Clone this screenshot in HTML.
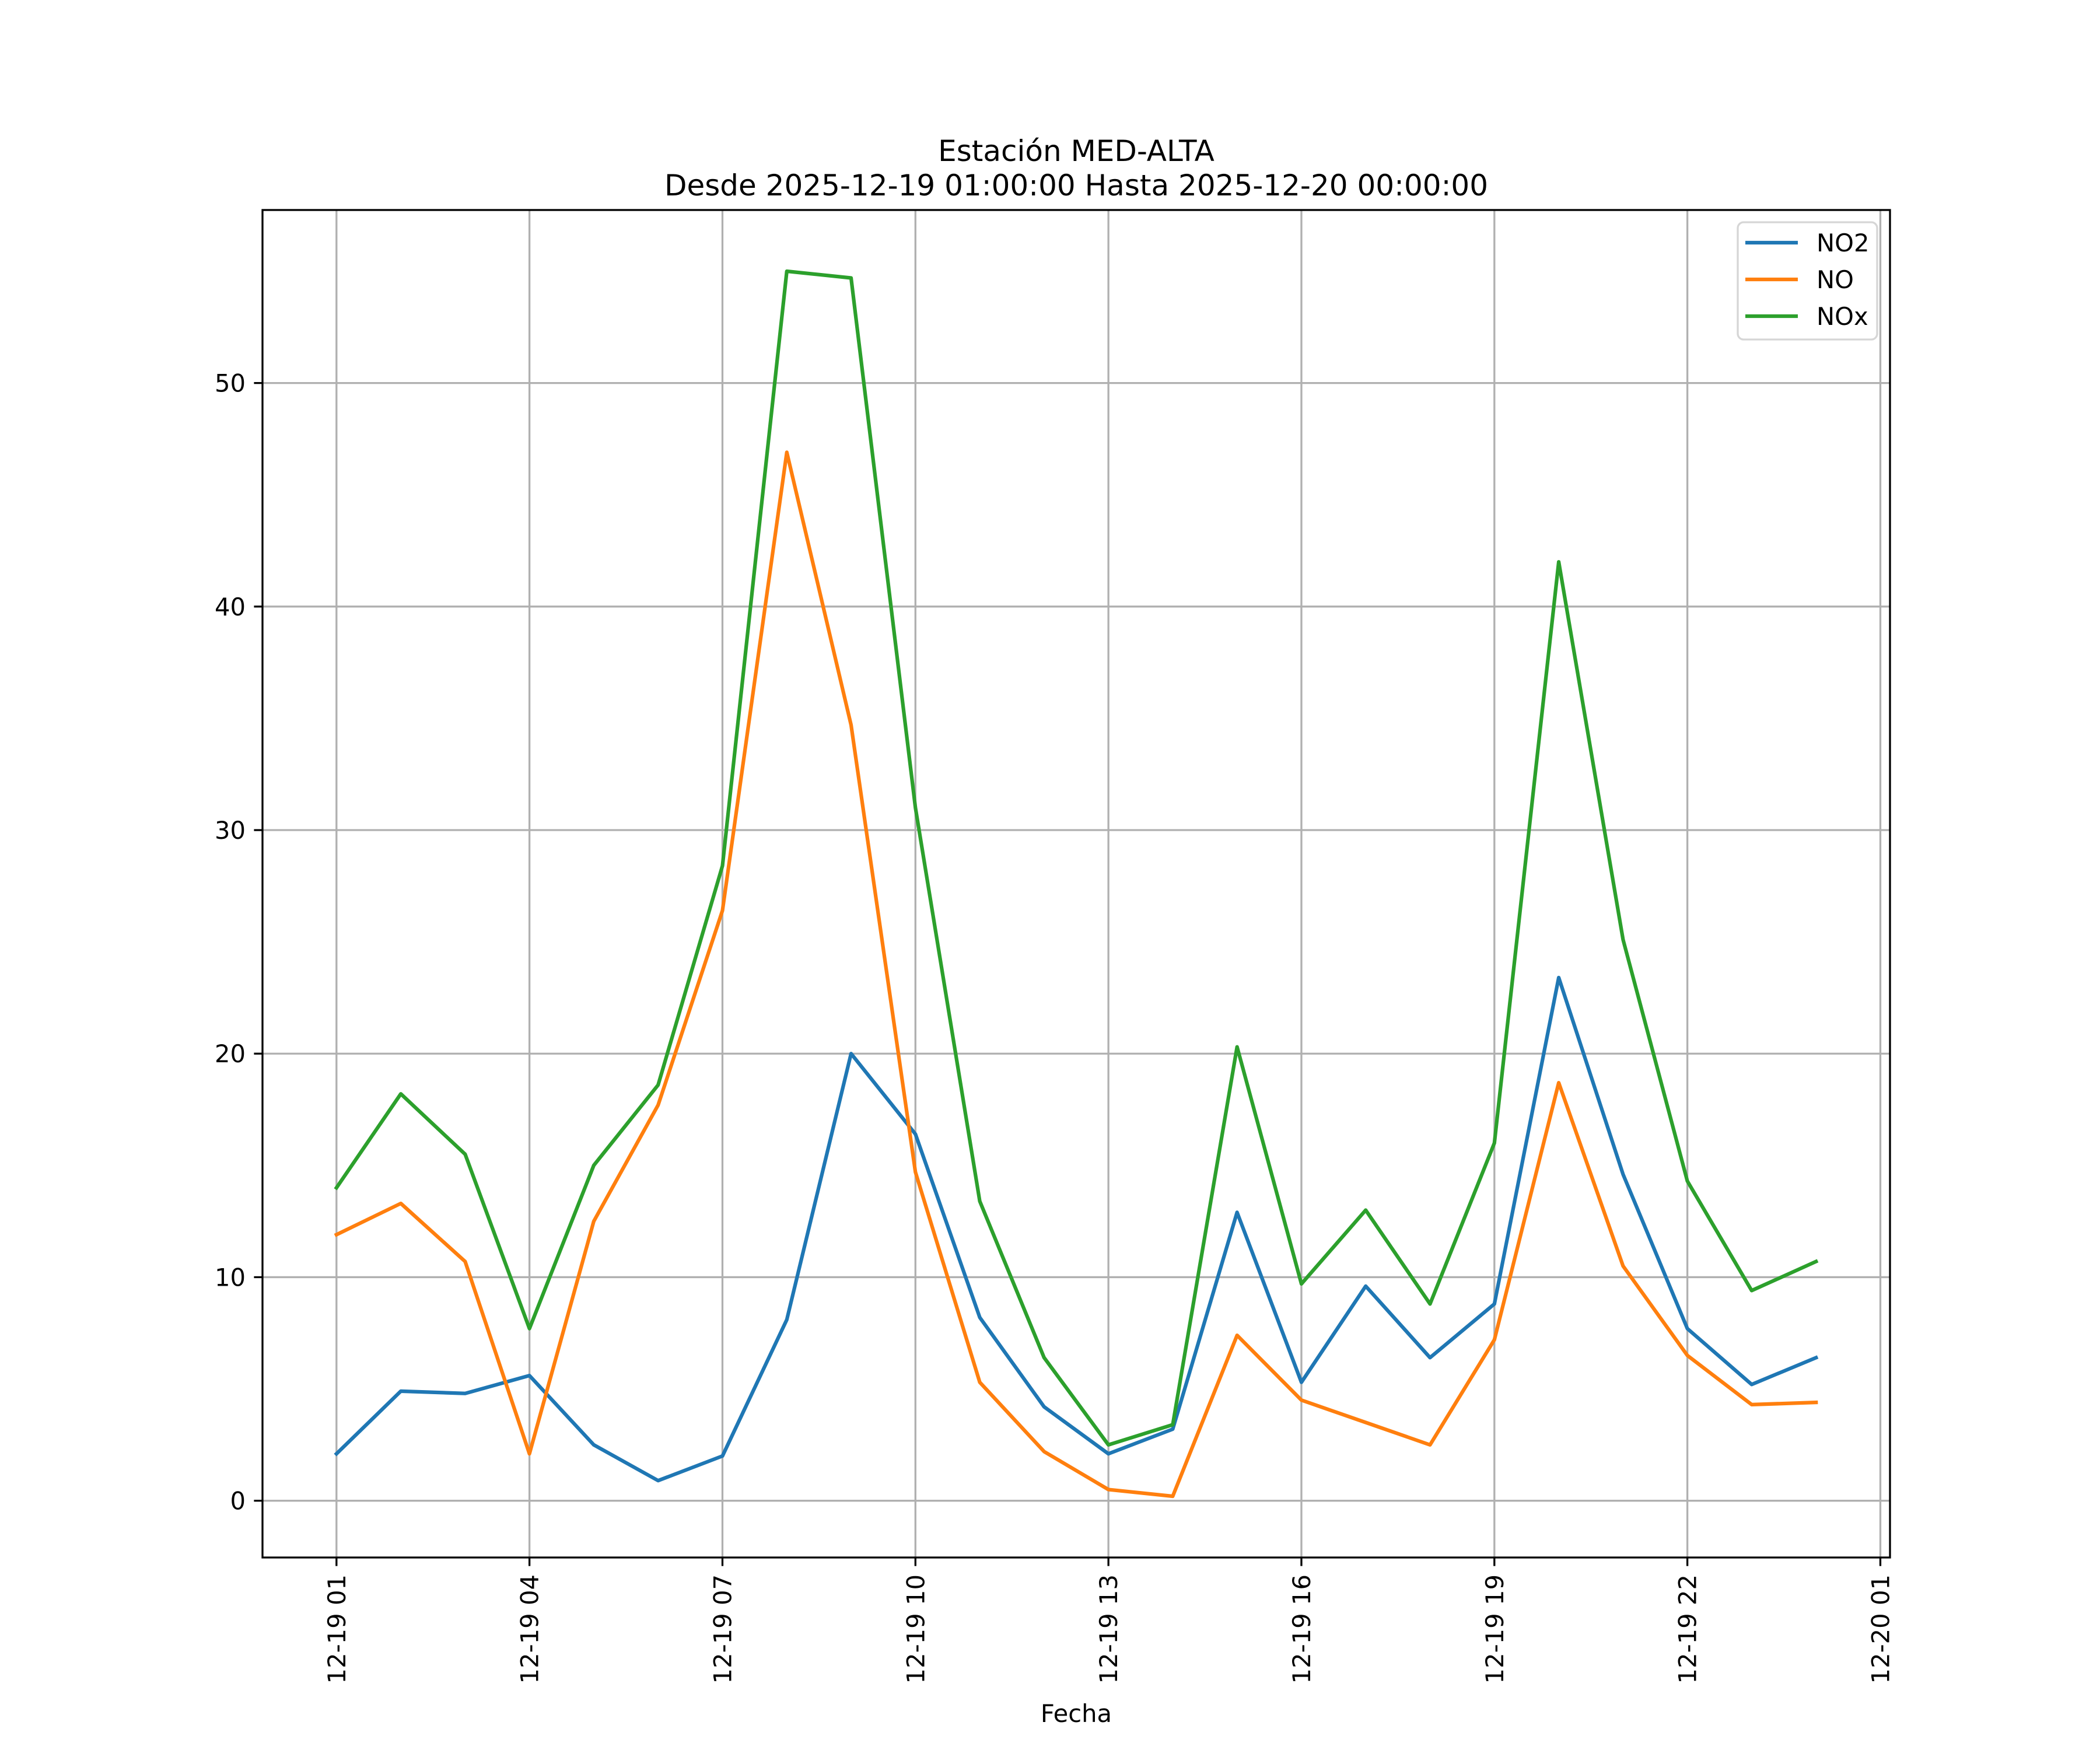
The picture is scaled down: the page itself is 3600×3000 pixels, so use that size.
<!DOCTYPE html>
<html><head><meta charset="utf-8"><style>
html,body{margin:0;padding:0;background:#fff}
svg{display:block;font-family:"DejaVu Sans","Liberation Sans",sans-serif}
</style></head><body>
<svg id="chart" width="3600" height="3000" viewBox="0 0 3600 3000" xmlns="http://www.w3.org/2000/svg">
<rect width="3600" height="3000" fill="#fff"/>
<g id="grid"></g>
<g id="series"></g>
<rect x="450" y="360" width="2790" height="2310" fill="none" stroke="#000" stroke-width="3.3"/>
<g id="ticks"></g>
<text x="1845" y="276" font-size="50" text-anchor="middle">Estación MED-ALTA</text>
<text x="1845" y="335" font-size="50" text-anchor="middle">Desde 2025-12-19 01:00:00 Hasta 2025-12-20 00:00:00</text>
<text x="1845" y="2952" font-size="41.7" text-anchor="middle">Fecha</text>
<g>
<rect x="2979" y="381" width="239" height="201" rx="10" fill="#fff" fill-opacity="0.8" stroke="#d6d6d6" stroke-width="3.3"/>
<line x1="2992" y1="416" x2="3082" y2="416" stroke="#1f77b4" stroke-width="6.25"/>
<text x="3114" y="431" font-size="41.7">NO2</text>
<line x1="2992" y1="479" x2="3082" y2="479" stroke="#ff7f0e" stroke-width="6.25"/>
<text x="3114" y="494" font-size="41.7">NO</text>
<line x1="2992" y1="542" x2="3082" y2="542" stroke="#2ca02c" stroke-width="6.25"/>
<text x="3114" y="557" font-size="41.7">NOx</text>
</g>
</svg>
<script>
const hours = [1,2,3,4,5,6,7,8,9,10,11,12,13,14,15,16,17,18,19,20,21,22,23,24];
const no2 = [2.1,4.9,4.8,5.6,2.5,0.9,2.0,8.1,20.0,16.4,8.2,4.2,2.1,3.2,12.9,5.3,9.6,6.4,8.8,23.4,14.6,7.7,5.2,6.4];
const no = [11.9,13.3,10.7,2.1,12.5,17.7,26.4,46.9,34.7,14.7,5.3,2.2,0.5,0.2,7.4,4.5,3.5,2.5,7.2,18.7,10.5,6.5,4.3,4.4];
const nox = [14.0,18.2,15.5,7.7,15.0,18.6,28.4,55.0,54.7,31.0,13.4,6.4,2.5,3.4,20.3,9.7,13.0,8.8,16.0,42.0,25.1,14.3,9.4,10.7];
const xTickHours = [1,4,7,10,13,16,19,22,25];
const xTickLabels = ["12-19 01","12-19 04","12-19 07","12-19 10","12-19 13","12-19 16","12-19 19","12-19 22","12-20 01"];
const yTicks = [0,10,20,30,40,50];

const NS="http://www.w3.org/2000/svg";
const L=450,R=3240,T=360,B=2670;
const xMin=1-23*0.05, xMax=24+23*0.05;
const allV=no2.concat(no,nox);
const vmin=Math.min(...allV), vmax=Math.max(...allV), pad=(vmax-vmin)*0.05;
const yMin=vmin-pad, yMax=vmax+pad;
function xs(h){return L+(h-xMin)/(xMax-xMin)*(R-L);}
function ys(v){return B-(v-yMin)/(yMax-yMin)*(B-T);}
function mk(tag,attrs,parent){const e=document.createElementNS(NS,tag);for(const k in attrs)e.setAttribute(k,attrs[k]);parent.appendChild(e);return e;}
const grid=document.getElementById('grid'),ticks=document.getElementById('ticks'),ser=document.getElementById('series');
xTickHours.forEach((h,i)=>{
  const x=xs(h);
  const g=mk('line',{x1:x,y1:T,x2:x,y2:B,stroke:'#b0b0b0','stroke-width':3.3},grid);
  
  
  const t=mk('line',{x1:x,y1:B,x2:x,y2:B+14.6,stroke:'#000','stroke-width':3.3},ticks);
  
  
  const lab=mk('text',{x:0,y:0,'font-size':41.7,'text-anchor':'end',transform:`translate(${x+15},${B+29}) rotate(-90)`},ticks);
  lab.textContent=xTickLabels[i];
  
  
});
yTicks.forEach(v=>{
  const y=ys(v);
  const g=mk('line',{x1:L,y1:y,x2:R,y2:y,stroke:'#b0b0b0','stroke-width':3.3},grid);
  
  
  const t=mk('line',{x1:L-14.6,y1:y,x2:L,y2:y,stroke:'#000','stroke-width':3.3},ticks);
  
  
  const lab=mk('text',{x:L-29,y:y+15,'font-size':41.7,'text-anchor':'end'},ticks);
  lab.textContent=String(v);
  
  
});
[[no2,'#1f77b4','no2-line'],[no,'#ff7f0e','no-line'],[nox,'#2ca02c','nox-line']].forEach(([d,c,n])=>{
  const pts=d.map((v,i)=>xs(hours[i]).toFixed(1)+','+ys(v).toFixed(1)).join(' ');
  const p=mk('polyline',{points:pts,fill:'none',stroke:c,'stroke-width':6.25,'stroke-linejoin':'round','stroke-linecap':'square'},ser);
  
  
});
</script>
</body></html>
